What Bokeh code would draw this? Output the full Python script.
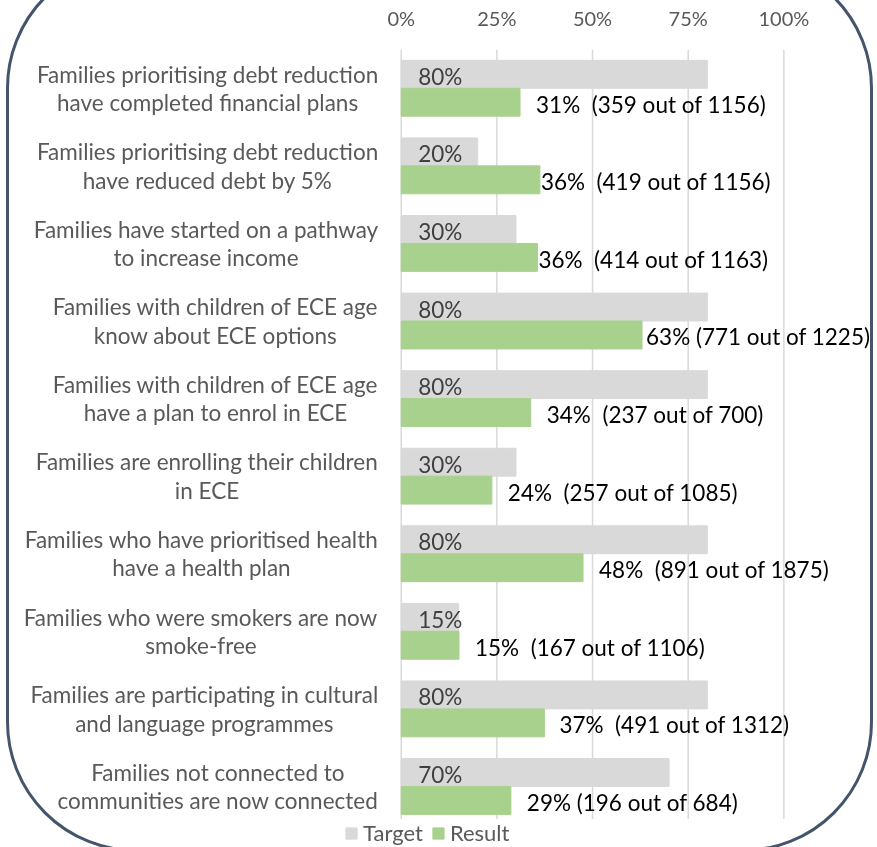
from bokeh.plotting import figure
from bokeh.models import (ColumnDataSource, Range1d, NumeralTickFormatter, FixedTicker,
                          Legend, LegendItem)
from bokeh.core.properties import value
from bokeh.embed import file_html
from bokeh.resources import INLINE

categories = [
    "Families prioritising debt reduction\nhave completed financial plans",
    "Families prioritising debt reduction\nhave reduced debt by 5%",
    "Families have started on a pathway\nto increase income",
    "Families with children of ECE age\nknow about ECE options",
    "Families with children of ECE age\nhave a plan to enrol in ECE",
    "Families are enrolling their children\nin ECE",
    "Families who have prioritised health\nhave a health plan",
    "Families who were smokers are now\nsmoke-free",
    "Families are participating in cultural\nand language programmes",
    "Families not connected to\ncommunities are now connected",
]
target = [0.80, 0.20, 0.30, 0.80, 0.80, 0.30, 0.80, 0.15, 0.80, 0.70]
result_count = [359, 419, 414, 771, 237, 257, 891, 167, 491, 196]
result_total = [1156, 1156, 1163, 1225, 700, 1085, 1875, 1106, 1312, 684]
tick_values = [0, 0.25, 0.5, 0.75, 1.0]

# style: gap (spaces) between percent and count, and label offset from bar end
label_gap = [2, 2, 2, 1, 2, 2, 2, 2, 2, 1]
label_pad = [16, 1, 1, 4, 16, 16, 16, 16, 15, 16]

result = [c / t for c, t in zip(result_count, result_total)]
result_text = [f"{round(r * 100)}%" + "\u00a0" * g + f"({c} out of {t})"
               for r, g, c, t in zip(result, label_gap, result_count, result_total)]
target_text = [f"{round(v * 100)}%" for v in target]

# category slots from top (0) downwards
ypos = [-i for i in range(len(categories))]
off = 0.18
src = ColumnDataSource(dict(y=ypos, yt=[y + off for y in ypos], yr=[y - off for y in ypos],
                            cat=categories, target=target, result=result,
                            rtext=result_text, ttext=target_text, pad=label_pad))

FONT = "Lato"
FS = "22.5px"

p = figure(width=861, height=888,
           x_range=Range1d(-1.0237, 1.2421), y_range=Range1d(-9.89, 0.5),
           x_axis_location="above", toolbar_location=None, output_backend="svg",
           min_border_left=0, min_border_right=0, min_border_top=88, min_border_bottom=0,
           styles={"position": "fixed", "top": "-42px", "left": "6px",
                   "border": "3px solid #44546A", "border-radius": "130px",
                   "box-sizing": "content-box"})
p.outline_line_color = None
p.border_fill_color = None
p.background_fill_color = None
p.xgrid.visible = False
p.ygrid.visible = False
p.yaxis.visible = False

# vertical gridlines at the tick values, spanning the category area
p.segment(x0=tick_values, x1=tick_values, y0=ypos[0] + 0.5, y1=ypos[-1] - 0.42,
          line_color="#D9D9D9", line_width=1.5)

r1 = p.hbar(y="yt", left=0, right="target", height=0.36, color="#D9D9D9", source=src)
r2 = p.hbar(y="yr", left=0, right="result", height=0.36, color="#A9D18E", source=src)

# category labels: block right-aligned next to the 0 line, lines centred
p.text(x=0, y="y", text="cat", source=src, x_offset=-23, y_offset=0,
       anchor="center_right", text_align="center", text_baseline="middle",
       text_line_height=1.05, text_font=value(FONT), text_font_size=FS,
       text_color="#595959")

p.text(x=0, y="yt", text="ttext", source=src,
       x_offset=17, y_offset=2, text_align="left", text_baseline="middle",
       text_font=value(FONT), text_font_size=FS, text_color="#404040")
p.text(x="result", y="yr", text="rtext", source=src,
       x_offset="pad", y_offset=2, text_align="left", text_baseline="middle",
       text_font=value(FONT), text_font_size=FS, text_color="#000000")

xa = p.xaxis[0]
xa.ticker = FixedTicker(ticks=tick_values)
xa.formatter = NumeralTickFormatter(format="0%")
xa.axis_line_color = None
xa.major_tick_line_color = None
xa.minor_tick_line_color = None
xa.major_tick_out = 0
xa.major_label_standoff = 20
xa.major_label_text_font = FONT
xa.major_label_text_font_size = "20px"
xa.major_label_text_color = "#595959"

legend = Legend(items=[LegendItem(label="Target", renderers=[r1]),
                       LegendItem(label="Result", renderers=[r2])],
                orientation="horizontal", location=(335, 9),
                border_line_color=None, background_fill_alpha=0,
                padding=0, margin=0, spacing=8, glyph_width=14, glyph_height=14,
                label_standoff=5, label_text_font=FONT, label_text_font_size="22px",
                label_text_color="#595959", label_height=22)
p.add_layout(legend, "center")

open("out.html", "w").write(file_html(p, INLINE))
